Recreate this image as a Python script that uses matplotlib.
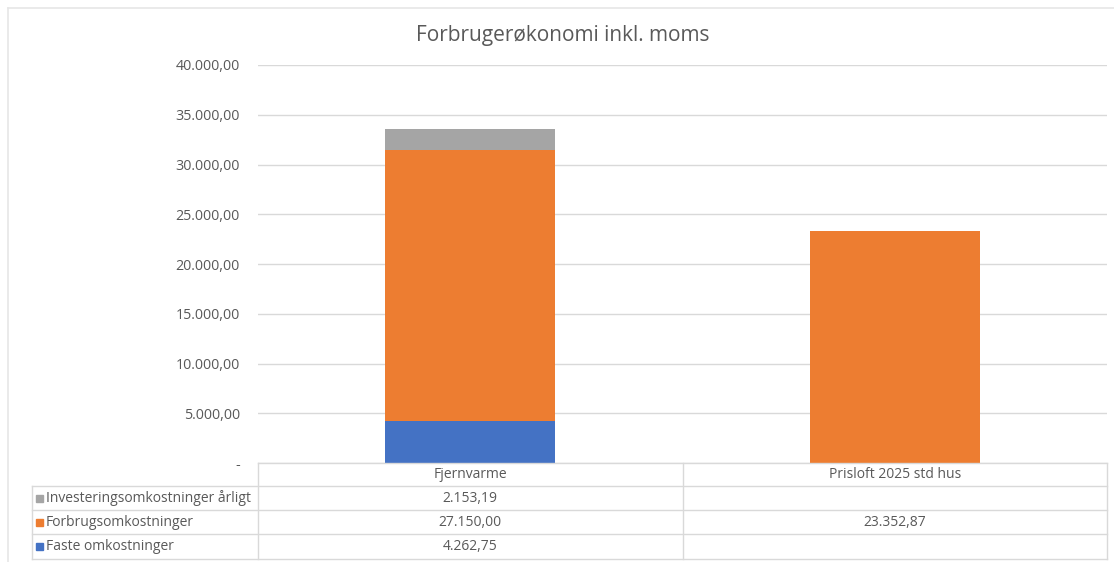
import matplotlib.pyplot as plt
from matplotlib.lines import Line2D
from matplotlib.patches import Rectangle

plt.rcParams['font.family'] = ['Open Sans', 'DejaVu Sans']

# data
categories = ['Fjernvarme', 'Prisloft 2025 std hus']
series_names = ['Investeringsomkostninger årligt', 'Forbrugsomkostninger', 'Faste omkostninger']
faste = [4262.75, None]
forbrug = [27150.00, 23352.87]
invest = [2153.19, None]
yticks = [0, 5000, 10000, 15000, 20000, 25000, 30000, 35000, 40000]

COL_BLUE = '#4472C4'
COL_ORANGE = '#ED7D31'
COL_GREY = '#A5A5A5'
TXT = '#595959'
GRID = '#D9D9D9'
FS = 10.3
FS_TAB = 10


def dk(v):
    # dansk talformat: 27.150,00
    s = f'{v:,.2f}'
    return s.replace(',', 'X').replace('.', ',').replace('X', '.')


W, H = 1114, 562
fig = plt.figure(figsize=(W / 100, H / 100), dpi=100)

# plot area in pixels
L, R, T, B = 258, 1107, 65, 463
ax = fig.add_axes([L / W, 1 - B / H, (R - L) / W, (B - T) / H])

x = range(len(categories))
f0 = [v or 0 for v in faste]
f1 = [v or 0 for v in forbrug]
f2 = [v or 0 for v in invest]
ax.bar(x, f0, width=0.4, color=COL_BLUE, zorder=3)
ax.bar(x, f1, width=0.4, bottom=f0, color=COL_ORANGE, zorder=3)
ax.bar(x, f2, width=0.4, bottom=[a + b for a, b in zip(f0, f1)], color=COL_GREY, zorder=3)

ax.set_xlim(-0.5, len(categories) - 0.5)
ax.set_ylim(0, 40000)
ax.set_yticks(yticks)
ax.set_yticklabels(['-' if v == 0 else dk(v) for v in yticks], color=TXT, fontsize=FS)
ax.tick_params(axis='y', length=0, pad=13)
ax.set_xticks([])
ax.grid(axis='y', color=GRID, linewidth=1, zorder=0)
for s in ax.spines.values():
    s.set_visible(False)

fig.text(563 / W, 1 - 35 / H, 'Forbrugerøkonomi inkl. moms', ha='center', va='center',
         fontsize=15, color=TXT)


# table drawn in pixel coordinates
def px(xp, yp):
    return xp / W, 1 - yp / H


def hline(x0, x1, y):
    fig.add_artist(Line2D([x0 / W, x1 / W], [1 - y / H, 1 - y / H], color=GRID, linewidth=1))


def vline(xp, y0, y1):
    fig.add_artist(Line2D([xp / W, xp / W], [1 - y0 / H, 1 - y1 / H], color=GRID, linewidth=1))


rows_y = [463, 486, 510, 534, 559]
label_x0 = 32
col_x = [L, (L + R) / 2, R]

hline(L, R, rows_y[0])
for y in rows_y[1:]:
    hline(label_x0, R, y)
vline(label_x0, rows_y[1], rows_y[-1])
for xc in col_x:
    vline(xc, rows_y[0], rows_y[-1])

for i, c in enumerate(categories):
    fig.text((col_x[i] + col_x[i + 1]) / 2 / W, 1 - (rows_y[0] + rows_y[1]) / 2 / H, c,
             ha='center', va='center', fontsize=FS_TAB, color=TXT)

table_vals = [invest, forbrug, faste]
colors = [COL_GREY, COL_ORANGE, COL_BLUE]
for r, (name, vals, col) in enumerate(zip(series_names, table_vals, colors)):
    yc = (rows_y[r + 1] + rows_y[r + 2]) / 2
    fig.add_artist(Rectangle(px(36, yc + 3.5), 7 / W, 7 / H, color=col, transform=fig.transFigure))
    fig.text(46 / W, 1 - yc / H, name, ha='left', va='center', fontsize=FS_TAB, color=TXT)
    for i, v in enumerate(vals):
        if v is not None:
            fig.text((col_x[i] + col_x[i + 1]) / 2 / W, 1 - yc / H, dk(v),
                     ha='center', va='center', fontsize=FS_TAB, color=TXT)

# chart border (top and left visible)
fig.add_artist(Line2D([8 / W, 1], [1 - 8 / H, 1 - 8 / H], color='#E6E6E6', linewidth=1.2))
fig.add_artist(Line2D([8 / W, 8 / W], [1 - 8 / H, 0], color='#E6E6E6', linewidth=1.2))

fig.savefig('out.png', dpi=100, facecolor='white')
